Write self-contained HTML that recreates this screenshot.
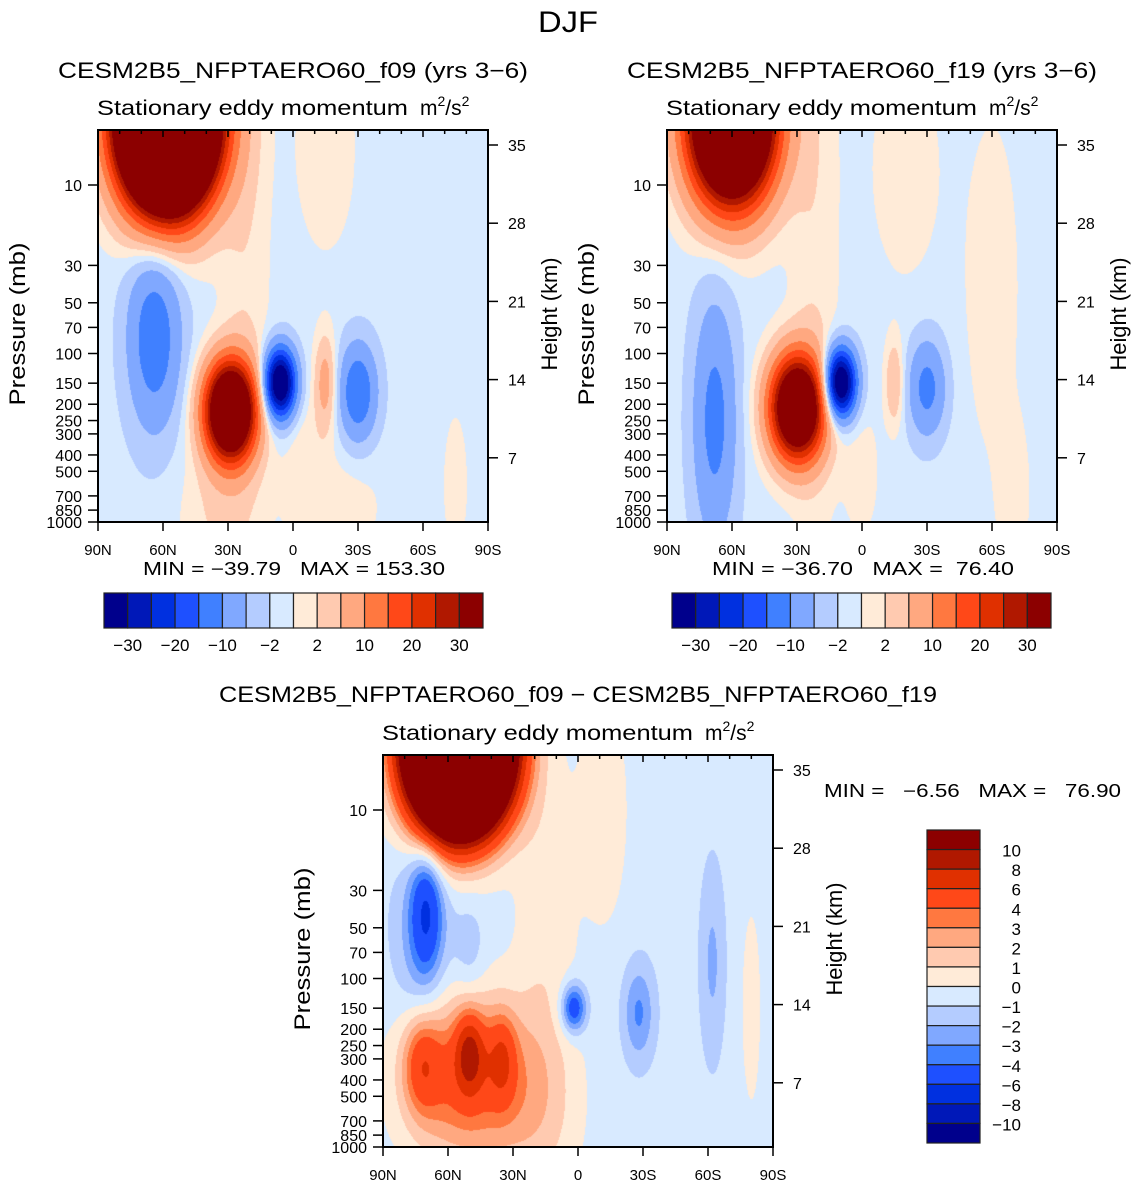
<!DOCTYPE html>
<html><head><meta charset="utf-8">
<style>
html,body{margin:0;padding:0;background:#fff;}
#wrap{position:relative;width:1137px;height:1185px;overflow:hidden;font-family:"Liberation Sans",sans-serif;}
canvas{position:absolute;}
svg{position:absolute;left:0;top:0;}
text{white-space:pre;}
</style></head>
<body>
<div id="wrap">
<canvas id="c1" width="390" height="392" style="left:98px;top:130px"></canvas>
<canvas id="c2" width="391" height="392" style="left:667px;top:130px"></canvas>
<canvas id="c3" width="390" height="392" style="left:383px;top:755px"></canvas>
<svg id="ov" width="1137" height="1185"></svg>
</div>
<script>
// ---- data ----
const colors=["#00008C","#0018B8","#0030E0","#1E50FF","#4080FF","#80A8FF","#B4CCFF","#D8EAFF","#FFEBD8","#FFCAB0","#FFA880","#FF7840","#FF4818","#E03000","#B01800","#8C0000"];
const levelsAbs=[-30,-25,-20,-15,-10,-5,-2,0,2,5,10,15,20,25,30];
const levelsDiff=[-10,-8,-6,-4,-3,-2,-1,0,1,2,3,4,6,8,10];
const absLabels=["-30","-20","-10","-2","2","10","20","30"];
const diffLabels=["-10","-8","-6","-4","-3","-2","-1","0","1","2","3","4","6","8","10"];
const latTicks=[90,60,30,0,-30,-60,-90];
const latNames=["90N","60N","30N","0","30S","60S","90S"];
const presTicks=[10,30,50,70,100,150,200,250,300,400,500,700,850,1000];
const kmTicks=[35,28,21,14,7];
// features: [lat, p(mb), amplitude, sigmaLat, sigmaLogP]
const bg1=-1, bg2=-1, bg3=-0.6;
const feat1=[[58,4,170,14,0.33],[64,80,-13,8.5,0.38],[29,220,60,8,0.2],[6,150,-40,5,0.14],[-15,150,8,3.5,0.2],[-30,170,-14,6,0.2],
 [22,20,2.6,8,1.5],[-15,6,2.5,10,0.45],[35,900,3,12,0.3],[-20,800,2.2,15,0.25],[-75,600,2.4,4,0.3],[-5,400,2,6,0.3]];
const feat2=[[60,4,90,13,0.33],[68,250,-11,7,0.5],[30,210,55,8.5,0.21],[10,150,-40,5,0.14],[-15,150,6,3,0.18],[-30,160,-11,6,0.2],
 [22,20,2.6,8,1.5],[-20,8,2.2,12,0.5],[-70,700,2.5,5,0.3],[-60,40,2,10,0.8],[0,500,2,6,0.3]];
const feat3=[[55,4,80,14,0.3],[70,40,-4.2,5,0.25],[72,60,-2,9,0.45],[72,320,4,6,0.2],[50,280,5.5,4.5,0.16],[35,300,3.5,4.5,0.18],[53,380,5.2,19,0.34],
 [20,600,1.8,15,0.4],[15,40,1.3,10,0.7],[-12,10,1.4,8,0.5],[2,150,-5,4,0.1],[-28,160,-2.6,5,0.2],[-62,80,-1.6,4,0.4],[50,70,-1.2,5,0.2],[-80,150,1.5,3,0.4]];

// ---- axes helpers ----
const W=390,H=392,PX=168.5,LOGTOP=1-55/168.5;
function xOf(lat,x0){return x0+(90-lat)/180*W;}
function yOf(p,y0){return y0+(Math.log10(p)-LOGTOP)*PX;}
function latAt(px){return 90-px/W*180;}
function logpAt(py){return LOGTOP+py/PX;}
function field(feats,bg,lat,lp){let v=bg;for(const f of feats){const a=(lat-f[0])/f[3],b=(lp-Math.log10(f[1]))/f[4];v+=f[2]*Math.exp(-0.5*(a*a+b*b));}return v;}
function idx(v,lv){let i=0;while(i<lv.length&&v>=lv[i])i++;return i;}
function hex(c){return [parseInt(c.substr(1,2),16),parseInt(c.substr(3,2),16),parseInt(c.substr(5,2),16)];}
const rgb=colors.map(hex);
function paint(id,feats,bg,lv){const cv=document.getElementById(id),ctx=cv.getContext('2d');const w=cv.width,h=cv.height;
 const im=ctx.createImageData(w,h);for(let y=0;y<h;y++){const lp=logpAt(y+0.5);for(let x=0;x<w;x++){const c=rgb[idx(field(feats,bg,latAt(x+0.5),lp),lv)];const k=(y*w+x)*4;im.data[k]=c[0];im.data[k+1]=c[1];im.data[k+2]=c[2];im.data[k+3]=255;}}ctx.putImageData(im,0,0);}
paint('c1',feat1,bg1,levelsAbs);paint('c2',feat2,bg2,levelsAbs);paint('c3',feat3,bg3,levelsDiff);

// ---- svg ----
const NS="http://www.w3.org/2000/svg",ov=document.getElementById('ov');
function el(tag,attrs,parent){const e=document.createElementNS(NS,tag);for(const k in attrs)e.setAttribute(k,attrs[k]);(parent||ov).appendChild(e);return e;}
function txt(s,x,y,size,anchor,len,name,parent){const t=el('text',{x:x,y:y,'font-size':size,'text-anchor':anchor||'start',fill:'#000','font-family':'Liberation Sans, sans-serif'},parent);
 if(len){t.setAttribute('textLength',len);t.setAttribute('lengthAdjust','spacingAndGlyphs');}
 
 
 t.textContent=s.replace(/-/g,'\u2212');return t;}
txt("DJF",568,32,30,'middle',60,'figure-title');

function panel(x0,y0,title,tx0,tx1,ty,minmax,name){
 const g=el('g',{});
 
 
 txt(title,tx0,ty,22,'start',tx1-tx0,'panel-title',g);
 txt("Stationary eddy momentum",x0-1,y0-15,21,'start',311,'subtitle',g);
 const u=el('text',{x:x0+322,y:y0-15,'font-size':21,'font-family':'Liberation Sans, sans-serif'},g);
 
 
 u.innerHTML='m<tspan font-size="14" dy="-9">2</tspan><tspan dy="9">/s</tspan><tspan font-size="14" dy="-9">2</tspan>';
 el('rect',{x:x0,y:y0,width:W,height:H,fill:'none',stroke:'#000','stroke-width':2},g);
 for(let lat=90;lat>=-90;lat-=10){const x=xOf(lat,x0),maj=lat%30===0;
  el('line',{x1:x,x2:x,y1:y0,y2:y0+(maj?7:4),stroke:'#000','stroke-width':1.5},g);
  el('line',{x1:x,x2:x,y1:y0+H,y2:y0+H+(maj?9:0),stroke:'#000','stroke-width':1.5},g);}
 latTicks.forEach((l,i)=>{txt(latNames[i],xOf(l,x0),y0+H+33,15,'middle',null,'x-tick-label',g);});
 presTicks.forEach(p=>{const y=yOf(p,y0);el('line',{x1:x0-10,x2:x0,y1:y,y2:y,stroke:'#000','stroke-width':1.5},g);
  txt(String(p),x0-16,y+6,16,'end',null,'y-tick-label',g);});
 kmTicks.forEach((k,i)=>{const y=y0+15+(35-k)/7*78.2;el('line',{x1:x0+W,x2:x0+W+10,y1:y,y2:y,stroke:'#000','stroke-width':1.5},g);
  txt(String(k),x0+W+20,y+6,16,'start',null,'height-tick-label',g);});
 const pt=txt("Pressure (mb)",0,0,22,'middle',163,'y-axis-title',g);pt.setAttribute('transform',`translate(${x0-73},${y0+194}) rotate(-90)`);
 const ht=txt("Height (km)",0,0,22,'middle',113,'right-axis-title',g);ht.setAttribute('transform',`translate(${x0+W+69},${y0+184}) rotate(-90)`);
 if(minmax)txt(minmax,x0+45,y0+H+53,18,'start',302,'min-max',g);
 return g;}
panel(98,130,"CESM2B5_NFPTAERO60_f09 (yrs 3-6)",58,528,78,"MIN = -39.79   MAX = 153.30",'panel-f09');
panel(667,130,"CESM2B5_NFPTAERO60_f19 (yrs 3-6)",627,1097,78,"MIN = -36.70   MAX =  76.40",'panel-f19');
panel(383,755,"CESM2B5_NFPTAERO60_f09 - CESM2B5_NFPTAERO60_f19",219,937,702,null,'panel-diff');
txt("MIN =   -6.56   MAX =   76.90",824,797,18,'start',297,'min-max');

function hbar(x0,y0,name){const g=el('g',{});
 const bw=379/16;colors.forEach((c,i)=>{const r=el('rect',{x:x0+i*bw,y:y0,width:bw,height:35,fill:c,stroke:'#222','stroke-width':1.2},g);
  });
 absLabels.forEach((s,j)=>{txt(s,x0+(2*j+1)*bw,y0+58,17,'middle',null,'colorbar-label',g);});}
hbar(104,593,'colorbar-f09');hbar(672,593,'colorbar-f19');
(function(){const g=el('g',{});
 const x0=927,y0=830,bh=313/16;colors.slice().reverse().forEach((c,i)=>{const r=el('rect',{x:x0,y:y0+i*bh,width:53,height:bh,fill:c,stroke:'#222','stroke-width':1.2},g);
  });
 diffLabels.slice().reverse().forEach((s,i)=>{txt(s,1021,y0+(i+1)*bh+7,17,'end',null,'colorbar-label',g);});})();
</script>
</body></html>
